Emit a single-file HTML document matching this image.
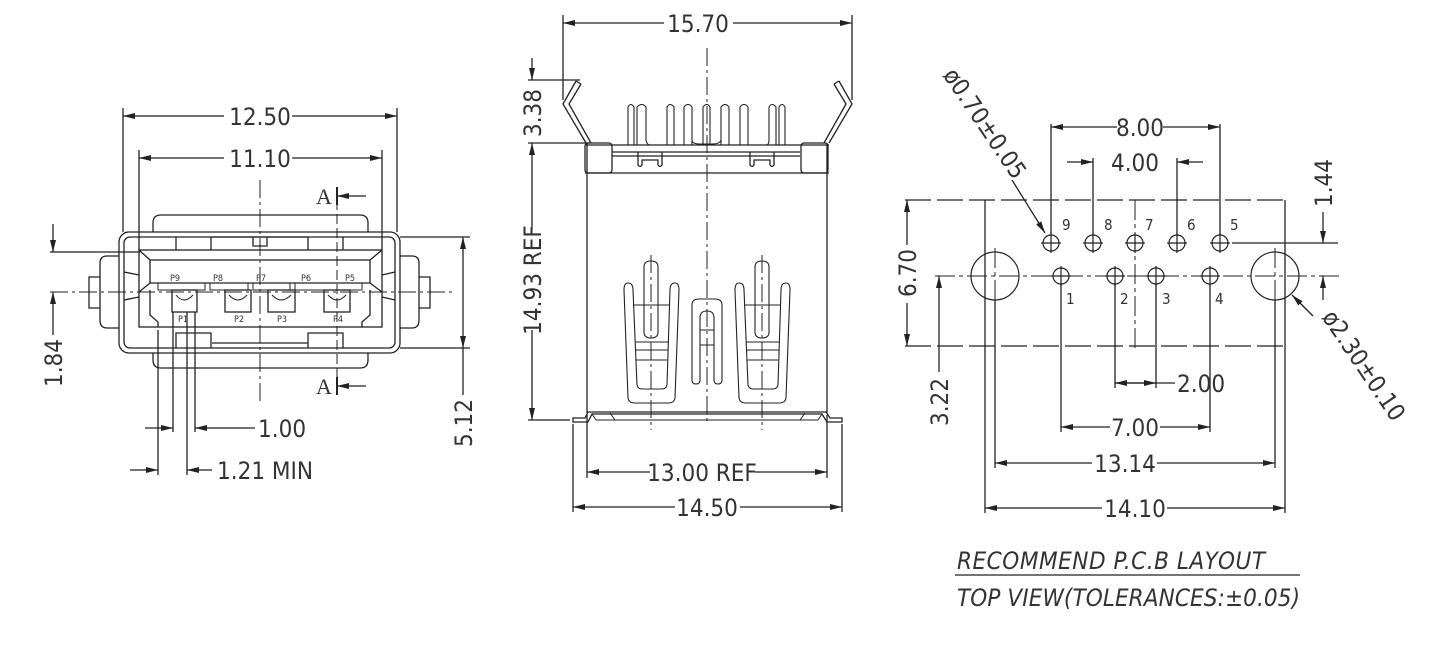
<!DOCTYPE html>
<html><head><meta charset="utf-8"><style>
html,body{margin:0;padding:0;background:#fff;}
svg{display:block}
text{font-family:"Liberation Sans Narrow","DejaVu Sans Condensed","Liberation Sans",sans-serif;fill:#333;}
.d{font-size:24px;}
.s{font-size:9px;font-family:"Liberation Sans",sans-serif;}
</style></head><body>
<svg width="1430" height="646" viewBox="0 0 1430 646" xmlns="http://www.w3.org/2000/svg">
<defs>
<marker id="a" viewBox="0 0 12 6" refX="12" refY="3" markerWidth="12" markerHeight="6" orient="auto" markerUnits="userSpaceOnUse">
<path d="M0,0 L12,3 L0,6 z" fill="#222"/></marker>
</defs>
<g fill="none" stroke="#222" stroke-width="1.3">

<!-- ================= LEFT VIEW ================= -->
<line x1="123" y1="108" x2="123" y2="232"/><line x1="397" y1="108" x2="397" y2="232"/>
<line x1="224" y1="116" x2="123" y2="116" marker-end="url(#a)"/><line x1="292" y1="116" x2="397" y2="116" marker-end="url(#a)"/>
<line x1="139" y1="150" x2="139" y2="250"/><line x1="382" y1="150" x2="382" y2="250"/>
<line x1="224" y1="158" x2="139" y2="158" marker-end="url(#a)"/><line x1="292" y1="158" x2="382" y2="158" marker-end="url(#a)"/>
<rect x="119" y="232" width="281" height="121" rx="10"/>
<rect x="124" y="237" width="271" height="111" rx="6"/>
<path d="M153,232 V223 Q153,215 161,215 H360 Q368,215 368,223 V232"/>
<path d="M153,353 V360 Q153,368 161,368 H360 Q368,368 368,360 V353"/>
<path d="M119,256 H107 Q100,256 100,263 V320 Q100,328 107,328 H119"/>
<path d="M100,277 H89 V308 H100"/>
<path d="M400,256 H412 Q419,256 419,263 V320 Q419,328 412,328 H400"/>
<path d="M419,277 H430 V308 H419"/>
<path d="M176,237 V250 M211,237 V250 M212,237 H308 M308,237 V250 M343,237 V250 M253,237 V246 H267 V237"/>
<path d="M176,348 V333 H211 V348 M308,348 V333 H343 V348 M212,343 H308"/>
<rect x="139" y="250" width="243" height="77"/>
<path d="M139,250 L150,260 H370 L382,250 M150,260 V283 M370,260 V283"/>
<path d="M139,292 L150,283 H370 L382,292"/>
<path d="M150,290 V315 L158,322 V327 M370,290 V315 L362,322 V327 M124,272 L139,275 M124,300 L139,297 M395,272 L382,275 M395,300 L382,297"/>
<path d="M158,283 V290 H205 V283 M210,283 V290 H248 V283 M253,283 V290 H290 V283 M295,283 V290 H362 V283" stroke-width="1"/>
<rect x="172" y="290" width="25" height="22"/><rect x="225" y="290" width="26" height="22"/>
<rect x="268" y="290" width="27" height="22"/><rect x="324" y="290" width="26" height="22"/>
<path d="M176,295 Q184,305 193,295 M229,295 Q238,305 247,295 M272,295 Q281,305 291,295 M328,295 Q337,305 346,295" stroke-width="1"/>
<line x1="50" y1="292" x2="455" y2="292" stroke-dasharray="18,4,3,4" stroke-width="1"/>
<line x1="260" y1="180" x2="260" y2="405" stroke-dasharray="18,4,3,4" stroke-width="1"/>
<line x1="337" y1="200" x2="337" y2="385" stroke-dasharray="10,4" stroke-width="1"/>
<line x1="337" y1="187" x2="337" y2="205" stroke-width="2"/><line x1="366" y1="196" x2="337" y2="196" marker-end="url(#a)"/>
<line x1="337" y1="377" x2="337" y2="395" stroke-width="2"/><line x1="366" y1="386" x2="337" y2="386" marker-end="url(#a)"/>
<line x1="50" y1="252" x2="140" y2="252"/><line x1="53" y1="224" x2="53" y2="252" marker-end="url(#a)"/>
<line x1="53" y1="335" x2="53" y2="292" marker-end="url(#a)"/>
<line x1="400" y1="237" x2="470" y2="237"/><line x1="400" y1="348" x2="470" y2="348"/>
<line x1="463" y1="290" x2="463" y2="237" marker-end="url(#a)"/><line x1="463" y1="290" x2="463" y2="348" marker-end="url(#a)"/>
<line x1="463" y1="348" x2="463" y2="395"/>
<line x1="158" y1="330" x2="158" y2="475"/><line x1="173" y1="312" x2="173" y2="432"/>
<line x1="187" y1="312" x2="187" y2="475"/><line x1="195" y1="312" x2="195" y2="432"/>
<line x1="145" y1="428" x2="173" y2="428" marker-end="url(#a)"/><line x1="255" y1="428" x2="195" y2="428" marker-end="url(#a)"/>
<line x1="130" y1="470" x2="158" y2="470" marker-end="url(#a)"/><line x1="212" y1="470" x2="187" y2="470" marker-end="url(#a)"/>

<!-- ================= MIDDLE VIEW ================= -->
<line x1="563" y1="15" x2="563" y2="100"/><line x1="852" y1="15" x2="852" y2="100"/>
<line x1="664" y1="23" x2="563" y2="23" marker-end="url(#a)"/><line x1="733" y1="23" x2="852" y2="23" marker-end="url(#a)"/>
<path d="M576,81 L563,104 L586,143 M581,84 L569,104 L591,143 M576,81 L581,84"/>
<path d="M839,81 L852,104 L829,143 M834,84 L846,104 L824,143 M839,81 L834,84"/>
<g stroke-width="1.1">
<path d="M628,145 V107 Q631,102 634,107 V145 M637,145 V107 Q642,102 646,107 V140 Q647,145 650,145"/>
<path d="M667,145 V107 Q670,102 674,107 V145 M684,145 V107 Q688,102 692,107 V145 M703,145 V107 Q707,102 710,107 V145 M721,145 V107 Q725,102 729,107 V145 M740,145 V107 Q744,102 748,107 V145"/>
<path d="M766,145 Q769,145 769,140 V107 Q772,102 776,107 V145 M779,145 V107 Q782,102 785,107 V145"/>
<path d="M692,140 Q692,144 700,144 H712 Q720,144 721,140"/>
</g>
<path d="M586,145 H829 M612,152 H800 M612,156 H800"/>
<rect x="585" y="143" width="27" height="30" rx="3"/><rect x="801" y="143" width="27" height="30" rx="3"/>
<path d="M638,152 V165 Q640,168 642,165 V160 H658 V165 Q660,168 662,165 V152 M750,152 V165 Q752,168 754,165 V160 H770 V165 Q772,168 774,165 V152"/>
<path d="M587,143 V413 M827,143 V413 M585,173 H829"/>
<path d="M573,422 H588 L592,414 H822 L827,422 H842 V418 H830 L826,412 H588 L585,418 H573 Z"/>
<path d="M592,414 L596,420 H818 L822,414 M610,413 L615,420 M805,413 L800,420" stroke-width="1"/>
<g stroke-width="1.1">
<path d="M624,290 Q624,283 628,283 Q633,283 633,290 L637,385 Q638,389 642,389 H662 Q666,389 667,385 L670,290 Q670,283 675,283 Q679,283 679,290 L675,398 Q674,403 669,403 H634 Q629,403 628,398 Z"/>
<path d="M644,267 Q644,261 651,261 Q658,261 658,267 V332 Q658,338 651,338 Q644,338 644,332 Z"/>
<path d="M633,305 H670 M635,342 H668 M635,350 H668 M636,360 H667"/>
<path d="M735,290 Q735,283 739,283 Q744,283 744,290 L748,385 Q749,389 753,389 H773 Q777,389 778,385 L781,290 Q781,283 786,283 Q790,283 790,290 L786,398 Q785,403 780,403 H745 Q740,403 739,398 Z"/>
<path d="M755,267 Q755,261 762,261 Q769,261 769,267 V332 Q769,338 762,338 Q755,338 755,332 Z"/>
<path d="M744,305 H781 M746,342 H779 M746,350 H779 M747,360 H778"/>
<path d="M692,380 V305 Q692,299 699,299 H715 Q722,299 722,305 V380 Q722,384 718,384 Q714,384 714,380 V318 Q714,311 707,311 Q700,311 700,318 V380 Q700,384 696,384 Q692,384 692,380 Z"/>
<path d="M700,330 H714 M700,345 H714"/>
</g>
<line x1="707" y1="48" x2="707" y2="425" stroke-dasharray="18,4,3,4" stroke-width="1"/>
<line x1="651" y1="255" x2="651" y2="430" stroke-dasharray="18,4,3,4" stroke-width="1"/>
<line x1="762" y1="255" x2="762" y2="430" stroke-dasharray="18,4,3,4" stroke-width="1"/>
<line x1="528" y1="80" x2="580" y2="80"/><line x1="532" y1="58" x2="532" y2="80" marker-end="url(#a)"/>
<line x1="528" y1="143" x2="590" y2="143"/>
<line x1="532" y1="230" x2="532" y2="143" marker-end="url(#a)"/><line x1="532" y1="330" x2="532" y2="420" marker-end="url(#a)"/>
<line x1="528" y1="420" x2="570" y2="420"/>
<line x1="587" y1="415" x2="587" y2="478"/><line x1="827" y1="415" x2="827" y2="478"/>
<line x1="573" y1="424" x2="573" y2="512"/><line x1="842" y1="424" x2="842" y2="512"/>
<line x1="650" y1="472" x2="587" y2="472" marker-end="url(#a)"/><line x1="755" y1="472" x2="827" y2="472" marker-end="url(#a)"/>
<line x1="675" y1="507" x2="573" y2="507" marker-end="url(#a)"/><line x1="740" y1="507" x2="842" y2="507" marker-end="url(#a)"/>

<!-- ================= RIGHT VIEW ================= -->
<path d="M985,200 V346 M1285,200 V346"/>
<line x1="905" y1="200" x2="1285" y2="200" stroke-dasharray="26,6"/>
<line x1="905" y1="346" x2="1285" y2="346" stroke-dasharray="26,6"/>
<g stroke-width="1.2">
<circle cx="1051" cy="243" r="8"/><circle cx="1093" cy="243" r="8"/><circle cx="1135" cy="243" r="8"/><circle cx="1177" cy="243" r="8"/><circle cx="1220" cy="243" r="8"/>
<circle cx="1061" cy="276" r="8"/><circle cx="1115" cy="276" r="8"/><circle cx="1156" cy="276" r="8"/><circle cx="1210" cy="276" r="8"/>
<path d="M1041,243 H1061 M1051,233 V253 M1083,243 H1103 M1093,233 V253 M1125,243 H1145 M1135,233 V253 M1167,243 H1187 M1177,233 V253 M1210,243 H1230 M1220,233 V253"/>
<path d="M1051,276 H1071 M1061,266 V286 M1105,276 H1125 M1115,266 V286 M1146,276 H1166 M1156,266 V286 M1200,276 H1220 M1210,266 V286"/>
<circle cx="995" cy="276" r="24"/><circle cx="1275" cy="276" r="24"/>
</g>
<line x1="935" y1="276" x2="1340" y2="276" stroke-dasharray="20,4,4,4" stroke-width="1"/>
<line x1="995" y1="248" x2="995" y2="470" stroke-dasharray="20,4,4,4" stroke-width="1"/>
<line x1="1275" y1="248" x2="1275" y2="470" stroke-dasharray="20,4,4,4" stroke-width="1"/>
<line x1="1135" y1="200" x2="1135" y2="352" stroke-dasharray="20,4,4,4" stroke-width="1"/>
<path d="M1051,124 V235 M1220,124 V235 M1093,158 V235 M1177,158 V235 M1061,284 V432 M1210,284 V432 M1115,284 V388 M1156,284 V388 M985,346 V513 M1285,346 V513 M995,300 V468 M1275,300 V468"/>
<line x1="1232" y1="243" x2="1338" y2="243"/>
<line x1="1117" y1="127" x2="1051" y2="127" marker-end="url(#a)"/><line x1="1163" y1="127" x2="1220" y2="127" marker-end="url(#a)"/>
<line x1="1067" y1="162" x2="1093" y2="162" marker-end="url(#a)"/><line x1="1203" y1="162" x2="1177" y2="162" marker-end="url(#a)"/>
<line x1="1323" y1="212" x2="1323" y2="243" marker-end="url(#a)"/><line x1="1323" y1="300" x2="1323" y2="276" marker-end="url(#a)"/>
<line x1="907" y1="245" x2="907" y2="200" marker-end="url(#a)"/><line x1="907" y1="303" x2="907" y2="346" marker-end="url(#a)"/>
<line x1="939" y1="372" x2="939" y2="276" marker-end="url(#a)"/>
<line x1="1156" y1="383" x2="1115" y2="383" marker-end="url(#a)"/><line x1="1115" y1="383" x2="1156" y2="383" marker-end="url(#a)"/><line x1="1156" y1="383" x2="1175" y2="383"/>
<line x1="1110" y1="427" x2="1061" y2="427" marker-end="url(#a)"/><line x1="1160" y1="427" x2="1210" y2="427" marker-end="url(#a)"/>
<line x1="1092" y1="463" x2="995" y2="463" marker-end="url(#a)"/><line x1="1157" y1="463" x2="1275" y2="463" marker-end="url(#a)"/>
<line x1="1102" y1="508" x2="985" y2="508" marker-end="url(#a)"/><line x1="1167" y1="508" x2="1285" y2="508" marker-end="url(#a)"/>
<line x1="1012" y1="180" x2="1045" y2="233" marker-end="url(#a)"/>
<line x1="1313" y1="316" x2="1292" y2="295" marker-end="url(#a)"/>
<line x1="955" y1="575" x2="1300" y2="575"/>
</g>

<!-- ===== TEXT ===== -->
<g class="d">
<text x="260" y="125" text-anchor="middle">12.50</text>
<text x="260" y="167" text-anchor="middle">11.10</text>
<text x="258" y="437">1.00</text>
<text x="217" y="479">1.21  MIN</text>
<text transform="translate(62,363) rotate(-90)" text-anchor="middle">1.84</text>
<text transform="translate(472,423) rotate(-90)" text-anchor="middle">5.12</text>
<text x="698" y="32" text-anchor="middle">15.70</text>
<text x="702" y="481" text-anchor="middle">13.00  REF</text>
<text x="707" y="516" text-anchor="middle">14.50</text>
<text transform="translate(541,113) rotate(-90)" text-anchor="middle">3.38</text>
<text transform="translate(541,280) rotate(-90)" text-anchor="middle">14.93  REF</text>
<text x="1140" y="136" text-anchor="middle">8.00</text>
<text x="1135" y="171" text-anchor="middle">4.00</text>
<text x="1177" y="392">2.00</text>
<text x="1135" y="436" text-anchor="middle">7.00</text>
<text x="1125" y="472" text-anchor="middle">13.14</text>
<text x="1135" y="517" text-anchor="middle">14.10</text>
<text transform="translate(916,273) rotate(-90)" text-anchor="middle">6.70</text>
<text transform="translate(948,402) rotate(-90)" text-anchor="middle">3.22</text>
<text transform="translate(1332,183) rotate(-90)" text-anchor="middle">1.44</text>
<text transform="translate(978,128) rotate(56)" text-anchor="middle">ø0.70±0.05</text>
<text transform="translate(1357,370) rotate(56)" text-anchor="middle">ø2.30±0.10</text>
</g>
<text x="316" y="204" style="font-family:'Liberation Serif',serif;font-size:22px">A</text>
<text x="316" y="394" style="font-family:'Liberation Serif',serif;font-size:22px">A</text>
<g style="font-size:15px">
<text x="1062" y="230">9</text><text x="1104" y="230">8</text><text x="1145" y="230">7</text><text x="1187" y="230">6</text><text x="1230" y="230">5</text>
<text x="1066" y="304">1</text><text x="1120" y="304">2</text><text x="1162" y="304">3</text><text x="1215" y="304">4</text>
</g>
<g class="s" text-anchor="middle">
<text x="175" y="281">P9</text><text x="218" y="281">P8</text><text x="261" y="281">P7</text><text x="306" y="281">P6</text><text x="350" y="281">P5</text>
<text x="183" y="322">P1</text><text x="239" y="322">P2</text><text x="282" y="322">P3</text><text x="338" y="322">P4</text>
</g>
<text x="957" y="569" style="font-size:24px;font-style:italic" textLength="308">RECOMMEND P.C.B LAYOUT</text>
<text x="957" y="606" style="font-size:24px;font-style:italic" textLength="343">TOP VIEW(TOLERANCES:±0.05)</text>
</svg>
</body></html>
